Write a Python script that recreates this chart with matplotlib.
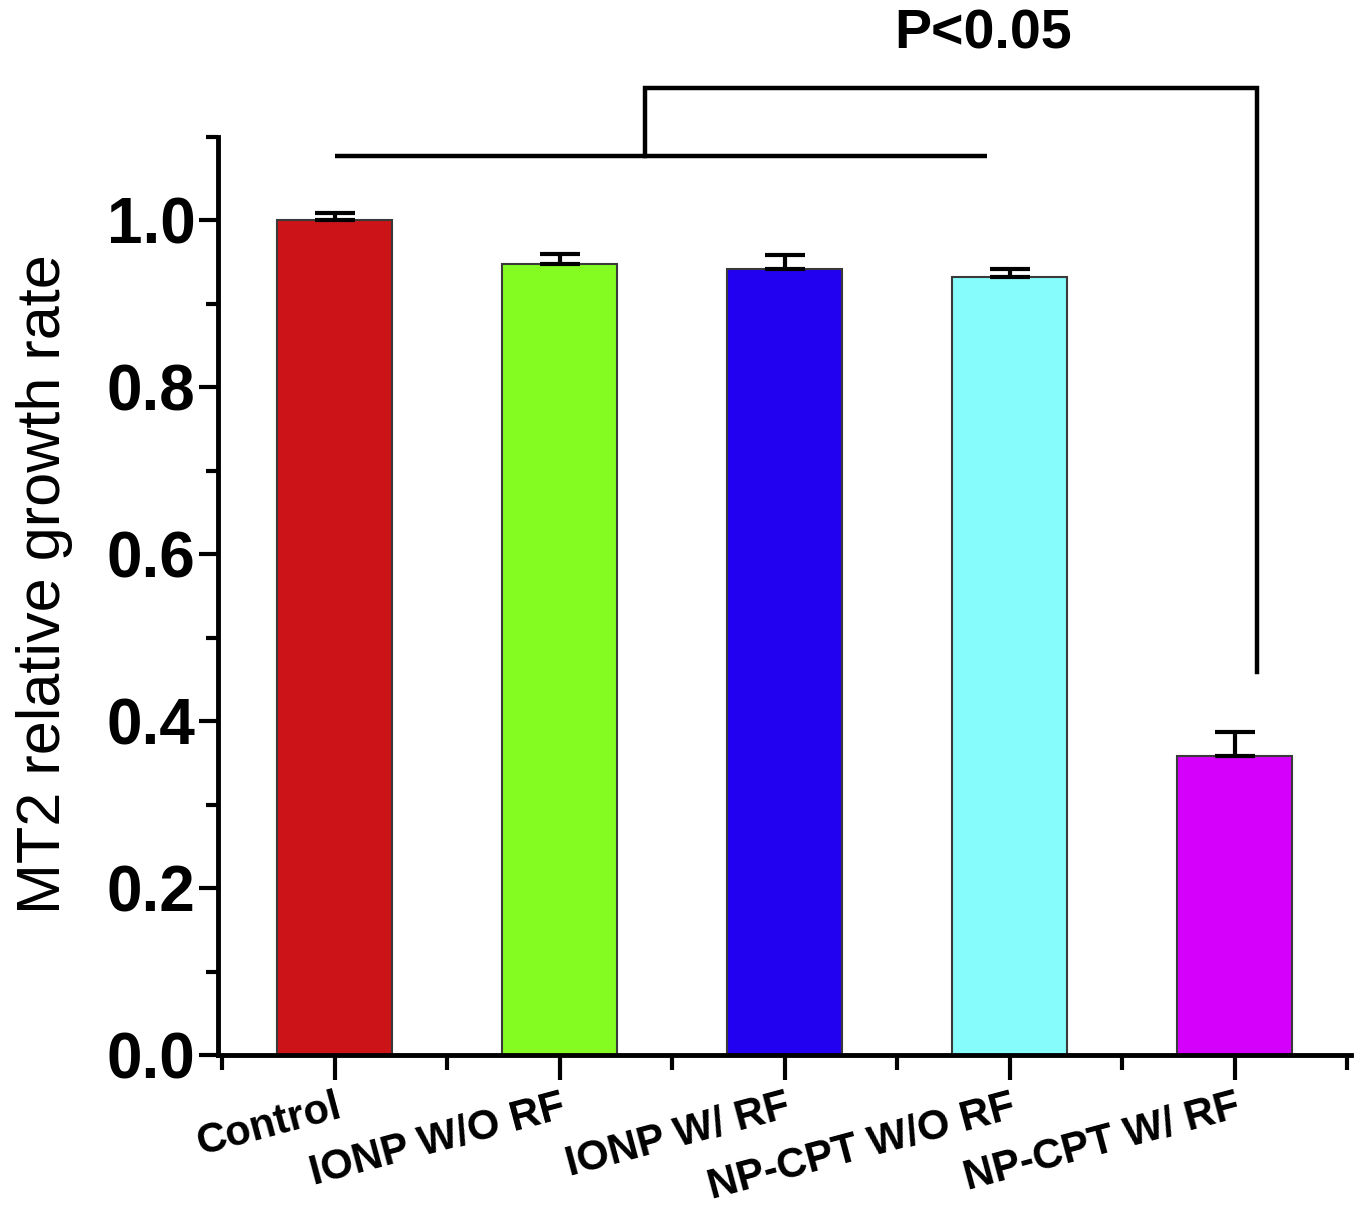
import matplotlib
matplotlib.use("Agg")
import matplotlib.pyplot as plt
from matplotlib.ticker import FixedLocator
from matplotlib import font_manager

categories = ["Control", "IONP W/O RF", "IONP W/ RF", "NP-CPT W/O RF", "NP-CPT W/ RF"]
values = [1.0, 0.948, 0.942, 0.932, 0.358]
errors = [0.008, 0.012, 0.016, 0.010, 0.029]
colors = ["#CC1418", "#84FC22", "#2200F0", "#86FCFC", "#D400FC"]
yticks = [0.0, 0.2, 0.4, 0.6, 0.8, 1.0]
yticklabels = ["0.0", "0.2", "0.4", "0.6", "0.8", "1.0"]
p_text = "P<0.05"

plt.rcParams['font.family'] = ['Liberation Sans', 'DejaVu Sans']
names = {f.name for f in font_manager.fontManager.ttflist}
narrow = 'Liberation Sans Narrow' in names

fig = plt.figure(figsize=(13.61, 12.18), dpi=100)
ax = fig.add_axes([0.160, 0.1338, 0.833, 0.754])

x = list(range(len(categories)))
ax.bar(x, values, width=0.51, color=colors, edgecolor="#3a3a3a", linewidth=1.5, zorder=2)
ax.errorbar(x, values, yerr=[[0] * len(errors), errors], fmt="none", ecolor="black",
            elinewidth=3, capsize=14.5, capthick=3, zorder=3)

ax.set_xlim(-0.52, 4.52)
ax.set_ylim(0, 1.1)

for s in ["top", "right"]:
    ax.spines[s].set_visible(False)
for s in ["left", "bottom"]:
    ax.spines[s].set_linewidth(3.5)

ax.set_yticks(yticks)
ax.set_yticklabels(yticklabels, fontsize=46, fontweight="bold")
ax.yaxis.set_minor_locator(FixedLocator([0.1, 0.3, 0.5, 0.7, 0.9, 1.1]))
ax.tick_params(axis="y", which="major", length=14, width=3, pad=2)
ax.tick_params(axis="y", which="minor", length=8.5, width=3)

ax.set_xticks(x)
if narrow:
    ax.set_xticklabels(categories, fontsize=37, family=['Liberation Sans Narrow', 'DejaVu Sans'],
                       rotation=15, ha="right", va="top", rotation_mode="anchor")
else:
    ax.set_xticklabels(categories, fontsize=30, fontweight="bold", rotation=15, ha="right",
                       va="top", rotation_mode="anchor")
ax.xaxis.set_minor_locator(FixedLocator([-0.5, 0.5, 1.5, 2.5, 3.5, 4.5]))
ax.tick_params(axis="x", which="major", length=18, width=3, pad=5)
ax.tick_params(axis="x", which="minor", length=11, width=3)

ax.set_ylabel("MT2 relative growth rate", fontsize=44)
ax.yaxis.set_label_coords(-0.128, 0.513)

# significance brackets
lw = 3.2
ax.plot([0.0, 2.9], [1.077, 1.077], color="black", lw=lw, clip_on=False, solid_capstyle="butt")
ax.plot([1.38, 1.38, 4.10, 4.10], [1.077, 1.158, 1.158, 0.459], color="black", lw=lw,
        clip_on=False, solid_joinstyle="miter")
ax.text(2.88, 1.222, p_text, fontsize=40, fontweight="bold", ha="center", va="center",
        clip_on=False)

fig.savefig("out.png", dpi=100)
